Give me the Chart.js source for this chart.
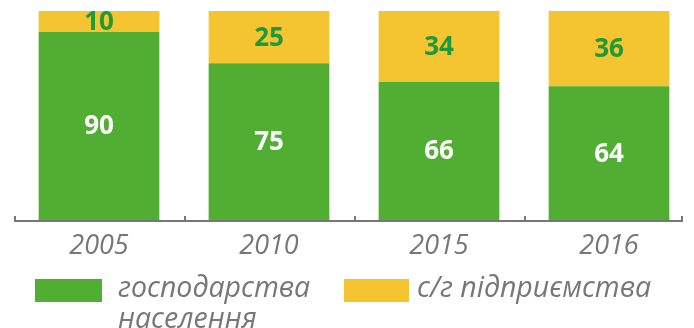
<!DOCTYPE html>
<html lang="uk">
<head>
<meta charset="utf-8">
<script src="https://cdn.jsdelivr.net/npm/chart.js@4/dist/chart.umd.min.js"></script>
<style>
  html, body { margin: 0; padding: 0; background: #fff; }
  #wrap { position: relative; width: 694px; height: 328px; overflow: hidden; }
  #chart { position: absolute; left: 0; top: 0; }
  .legend-item { position: absolute; font-family: "Open Sans", sans-serif; font-style: italic; font-size: 28.5px; line-height: 31px; color: #777; white-space: nowrap; }
  .swatch { position: absolute; }
</style>
</head>
<body>
<div id="wrap">
  <canvas id="chart" width="694" height="328"></canvas>
</div>
<script>
// Years on the x axis
const years = ['2005', '2010', '2015', '2016'];
// Share of production, %
const households = [90, 75, 66, 64];
const enterprises = [10, 25, 34, 36];
// Series names (legend)
const householdsName = ['господарства', 'населення'];
const enterprisesName = ['с/г підприємства'];

const GREEN = '#52ae32';
const YELLOW = '#f4c431';
const LABEL_GREEN = '#1f9a3a';
const GREY = '#777777';

// Writes each segment's value in the middle of the segment
const valueLabels = {
  id: 'valueLabels',
  afterDatasetsDraw(chart) {
    const ctx = chart.ctx;
    ctx.save();
    ctx.font = 'bold 26px "Open Sans", sans-serif';
    ctx.textAlign = 'center';
    ctx.textBaseline = 'middle';
    chart.data.datasets.forEach((ds, di) => {
      const meta = chart.getDatasetMeta(di);
      meta.data.forEach((bar, i) => {
        const p = bar.getProps(['x', 'y', 'base'], true);
        ctx.fillStyle = ds.labelColor;
        ctx.fillText(String(ds.data[i]), p.x, (p.y + p.base) / 2 + 1);
      });
    });
    ctx.restore();
  }
};

// Baseline with short upward tick marks at the category boundaries
const baseline = {
  id: 'baseline',
  afterDraw(chart) {
    const x = chart.scales.x;
    const bottom = chart.chartArea.bottom + 1;
    const n = chart.data.labels.length;
    const step = (x.right - x.left) / n;
    const end = x.right - 11;
    const ctx = chart.ctx;
    ctx.save();
    ctx.strokeStyle = GREY;
    ctx.lineWidth = 2;
    ctx.beginPath();
    ctx.moveTo(x.left, bottom);
    ctx.lineTo(end, bottom);
    ctx.stroke();
    for (let i = 0; i <= n; i++) {
      const px = i === n ? end - 1 : Math.round(x.left + i * step) + 1;
      ctx.beginPath();
      ctx.moveTo(px, bottom);
      ctx.lineTo(px, bottom - 5);
      ctx.stroke();
    }
    ctx.restore();
  }
};

new Chart(document.getElementById('chart'), {
  type: 'bar',
  data: {
    labels: years,
    datasets: [
      { label: householdsName.join(' '), data: households, backgroundColor: GREEN, labelColor: '#ffffff' },
      { label: enterprisesName.join(' '), data: enterprises, backgroundColor: YELLOW, labelColor: LABEL_GREEN }
    ]
  },
  options: {
    responsive: false,
    animation: false,
    events: [],
    layout: { padding: { top: 11, left: 14, right: 0, bottom: 0 } },
    datasets: { bar: { barPercentage: 0.71, categoryPercentage: 1 } },
    plugins: { legend: { display: false }, tooltip: { enabled: false } },
    scales: {
      x: {
        stacked: true,
        grid: { display: false },
        border: { display: false },
        ticks: { color: GREY, padding: 2, font: { family: '"Open Sans", sans-serif', style: 'italic', size: 27 } },
        afterFit(scale) { scale.height = 108; }
      },
      y: { stacked: true, display: false, min: 0, max: 100 }
    }
  },
  plugins: [valueLabels, baseline]
});

// Legend below the chart
const wrap = document.getElementById('wrap');
function legendEntry(color, lines, boxLeft, boxWidth, textLeft) {
  const sw = document.createElement('div');
  sw.className = 'swatch';
  Object.assign(sw.style, { left: boxLeft + 'px', top: '279px', width: boxWidth + 'px', height: '23px', background: color });
  wrap.appendChild(sw);
  const t = document.createElement('div');
  t.className = 'legend-item';
  Object.assign(t.style, { left: textLeft + 'px', top: '271px' });
  t.innerHTML = lines.join('<br>');
  wrap.appendChild(t);
}
legendEntry(GREEN, householdsName, 35, 67, 118);
legendEntry(YELLOW, enterprisesName, 344, 65, 417);
</script>
</body>
</html>
